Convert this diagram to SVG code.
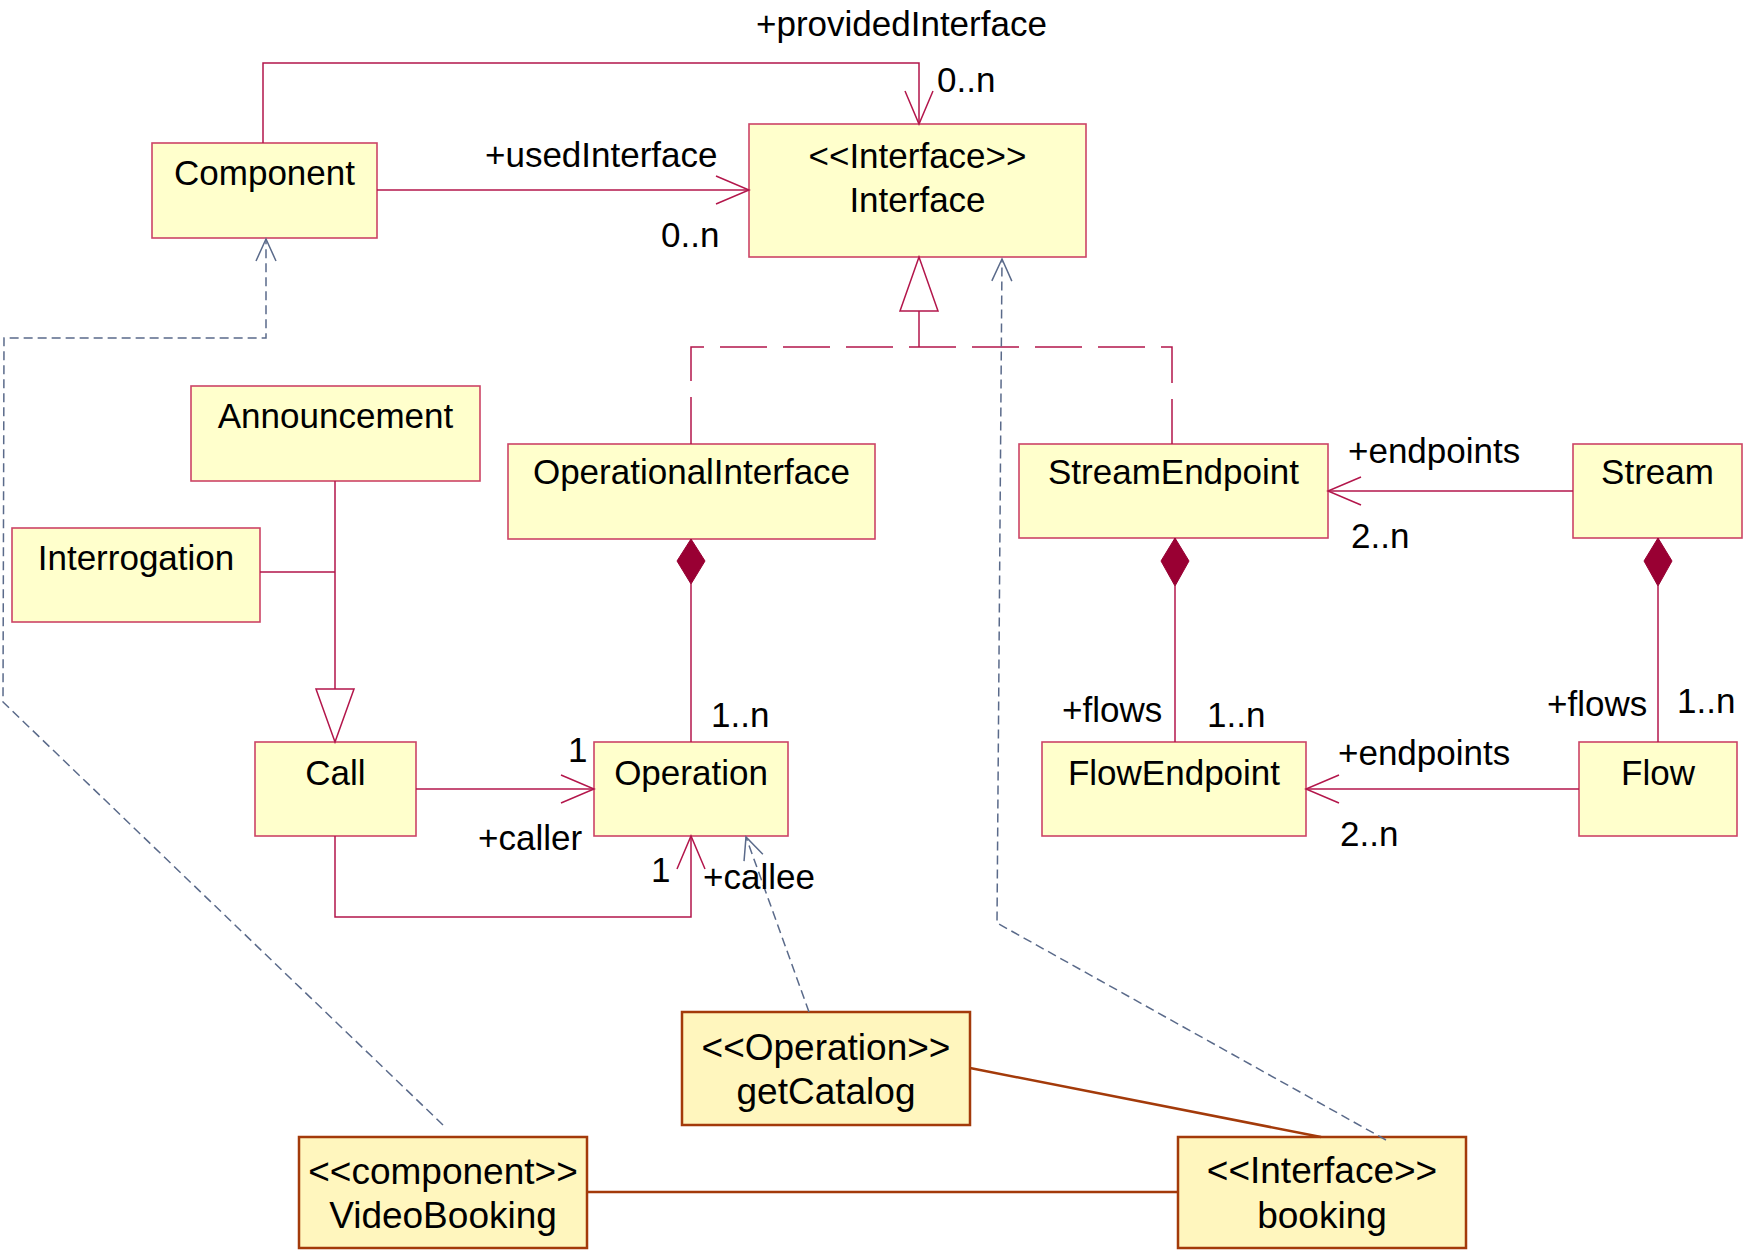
<svg xmlns="http://www.w3.org/2000/svg" width="1753" height="1250" viewBox="0 0 1753 1250">
<style>
.cls{fill:#FFFFCC;stroke:#CC4466;stroke-width:1.6}
.inst{fill:#FFF6BE;stroke:#A33A0A;stroke-width:2.5}
text{font-family:"Liberation Sans",Arial,sans-serif;font-size:35px;fill:#000}
.c{text-anchor:middle}
.big{font-size:37px}
.ln{fill:none;stroke:#B3164B;stroke-width:1.5}
.dash{fill:none;stroke:#B3164B;stroke-width:1.5;stroke-dasharray:47 16}
.dep{fill:none;stroke:#5A6A8A;stroke-width:1.5;stroke-dasharray:9 5}
.br{fill:none;stroke:#A33A0A;stroke-width:2.5}
.dia{fill:#990033;stroke:#990033;stroke-width:1}
.tri{fill:#FFFFFF;stroke:#B3164B;stroke-width:1.5}
</style>
<defs>
<marker id="open" viewBox="-36 -16 40 32" refX="0" refY="0" markerWidth="40" markerHeight="32" markerUnits="userSpaceOnUse" orient="auto">
<path d="M-33,-14 L0,0 L-33,14" fill="none" stroke="#B3164B" stroke-width="1.5"/>
</marker>
<marker id="deparr" viewBox="-26 -13 30 26" refX="0" refY="0" markerWidth="30" markerHeight="26" markerUnits="userSpaceOnUse" orient="auto">
<path d="M-22,-10 L0,0 L-22,10" fill="none" stroke="#5A6A8A" stroke-width="1.5"/>
</marker>
</defs>
<rect width="1753" height="1250" fill="#FFFFFF"/>

<g id="Component"><rect class="cls" x="152" y="143" width="225" height="95"/><text class="c" x="264.5" y="185">Component</text></g>
<g id="Interface"><rect class="cls" x="749" y="124" width="337" height="133"/><text class="c" x="917.5" y="168">&lt;&lt;Interface&gt;&gt;</text><text class="c" x="917.5" y="212">Interface</text></g>
<g id="Announcement"><rect class="cls" x="191" y="386" width="289" height="95"/><text class="c" x="335.5" y="428">Announcement</text></g>
<g id="Interrogation"><rect class="cls" x="12" y="528" width="248" height="94"/><text class="c" x="136" y="570">Interrogation</text></g>
<g id="OperationalInterface"><rect class="cls" x="508" y="444" width="367" height="95"/><text class="c" x="691.5" y="484">OperationalInterface</text></g>
<g id="StreamEndpoint"><rect class="cls" x="1019" y="444" width="309" height="94"/><text class="c" x="1173.5" y="484">StreamEndpoint</text></g>
<g id="Stream"><rect class="cls" x="1573" y="444" width="169" height="94"/><text class="c" x="1657.5" y="484">Stream</text></g>
<g id="Call"><rect class="cls" x="255" y="742" width="161" height="94"/><text class="c" x="335.5" y="785">Call</text></g>
<g id="Operation"><rect class="cls" x="594" y="742" width="194" height="94"/><text class="c" x="691" y="785">Operation</text></g>
<g id="FlowEndpoint"><rect class="cls" x="1042" y="742" width="264" height="94"/><text class="c" x="1174" y="785">FlowEndpoint</text></g>
<g id="Flow"><rect class="cls" x="1579" y="742" width="158" height="94"/><text class="c" x="1658" y="785">Flow</text></g>
<g id="getCatalog"><rect class="inst" x="682" y="1012" width="288" height="113"/><text class="c big" x="826" y="1060">&lt;&lt;Operation&gt;&gt;</text><text class="c big" x="826" y="1104">getCatalog</text></g>
<g id="VideoBooking"><rect class="inst" x="299" y="1137" width="288" height="111"/><text class="c big" x="443" y="1184">&lt;&lt;component&gt;&gt;</text><text class="c big" x="443" y="1228">VideoBooking</text></g>
<g id="booking"><rect class="inst" x="1178" y="1137" width="288" height="111"/><text class="c big" x="1322" y="1183">&lt;&lt;Interface&gt;&gt;</text><text class="c big" x="1322" y="1228">booking</text></g>

<g id="connectors">
<path class="ln" d="M377,190 L749,190" marker-end="url(#open)"/>
<path class="ln" d="M263,143 L263,63 L919,63 L919,124" marker-end="url(#open)"/>
<polygon class="tri" points="919,257 900,311 938,311"/>
<path class="ln" d="M919,311 L919,347"/>
<path class="dash" d="M691,444 L691,347 L1172,347 L1172,444"/>
<path class="ln" d="M335,481 L335,689 M260,572 L335,572"/>
<polygon class="tri" points="335,742 316,689 354,689"/>
<polygon class="dia" points="691,539 705,561 691,584 677,561"/>
<path class="ln" d="M691,584 L691,742"/>
<path class="ln" d="M416,789 L594,789" marker-end="url(#open)"/>
<path class="ln" d="M335,836 L335,917 L691,917 L691,836" marker-end="url(#open)"/>
<path class="ln" d="M1573,491 L1328,491" marker-end="url(#open)"/>
<polygon class="dia" points="1175,538 1189,561 1175,586 1161,561"/>
<path class="ln" d="M1175,586 L1175,742"/>
<polygon class="dia" points="1658,538 1672,561 1658,586 1644,561"/>
<path class="ln" d="M1658,586 L1658,742"/>
<path class="ln" d="M1579,789 L1306,789" marker-end="url(#open)"/>
<path class="dep" d="M809,1012 L746,837" marker-end="url(#deparr)"/>
<path class="dep" d="M1386,1140 L997,923 L1002,259" marker-end="url(#deparr)"/>
<path class="dep" d="M443,1125 L3,702 L4,338 L266,338 L266,239" marker-end="url(#deparr)"/>
<path class="br" d="M970,1068 L1321,1137"/>
<path class="br" d="M587,1192 L1178,1192"/>
</g>

<g id="labels">
<text x="756" y="36">+providedInterface</text>
<text x="937" y="92">0..n</text>
<text x="485" y="167">+usedInterface</text>
<text x="661" y="247">0..n</text>
<text x="711" y="727">1..n</text>
<text x="568" y="762">1</text>
<text x="478" y="850">+caller</text>
<text x="651" y="882">1</text>
<text x="703" y="889">+callee</text>
<text x="1348" y="463">+endpoints</text>
<text x="1351" y="548">2..n</text>
<text x="1062" y="722">+flows</text>
<text x="1207" y="727">1..n</text>
<text x="1547" y="716">+flows</text>
<text x="1677" y="713">1..n</text>
<text x="1338" y="765">+endpoints</text>
<text x="1340" y="846">2..n</text>
</g>
</svg>
